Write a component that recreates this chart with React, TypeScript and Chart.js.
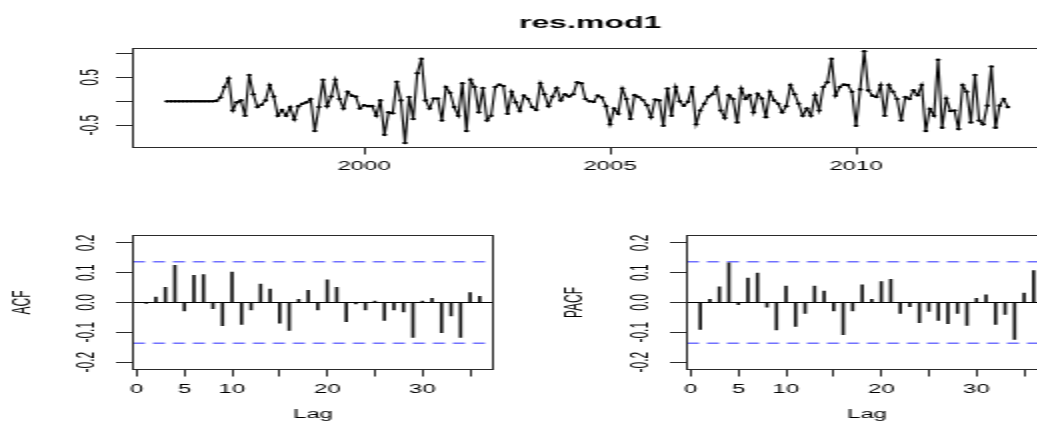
import React, { useEffect, useRef } from "react";
import { Chart, registerables } from "chart.js";

Chart.register(...registerables);

// ---------------- data ----------------
const seriesTitle = "res.mod1";
const startYear = 1996;
const frequency = 12;

const resValues = [
  0, 0, 0, 0, 0, 0, 0, 0, 0, 0, 0, 0,
  0.01, 0.08, 0.3, 0.48, -0.19, -0.02, 0.02, -0.3,
  0.55, 0.15, -0.12, -0.07, 0.02, 0.34, 0.1, -0.3, -0.18, -0.3,
  -0.12, -0.38, -0.1, -0.05, -0.02, 0.05, -0.62, -0.12, 0.45, -0.1,
  0.1, 0.45, 0.05, -0.15, 0.2, 0.12, 0.1, -0.15, -0.08, -0.1,
  -0.1, -0.3, 0.02, -0.7, -0.23, -0.25, 0.41, 0.02, -0.87, 0.09,
  -0.37, 0.59, 0.89, 0.02, -0.15, 0.06, 0.06, -0.4, 0.3, 0.18,
  -0.12, -0.3, 0.38, -0.62, 0.45, 0.3, -0.23, 0.28, -0.4, -0.3,
  0.3, 0.35, 0.32, -0.26, 0.2, -0.02, -0.2, 0.12, 0.05, -0.12,
  -0.18, 0.38, 0.15, -0.1, 0.1, 0.28, 0.02, 0.15, 0.1, 0.15,
  0.4, 0.38, 0.05, 0.0, -0.01, 0.12, 0.08, -0.1, -0.48, -0.15,
  -0.26, 0.27, 0.05, -0.37, 0.13, 0.09, 0.03, -0.08, -0.33, 0.04,
  0.02, -0.51, 0.27, -0.3, 0.3, 0.0, -0.09, -0.01, 0.3, -0.48,
  -0.19, -0.05, 0.1, 0.15, 0.3, -0.19, -0.35, 0.13, 0.05, -0.44,
  0.27, 0.05, 0.13, -0.23, 0.16, 0.06, -0.33, 0.2, 0.02, -0.05,
  -0.23, -0.1, 0.34, 0.15, -0.05, -0.3, -0.15, -0.3, 0.13, -0.19,
  0.3, 0.4, 0.89, 0.12, 0.3, 0.35, 0.34, 0.2, -0.51, 0.25,
  1.05, 0.23, 0.12, 0.09, 0.34, -0.3, 0.34, 0.2, 0.05, -0.4,
  0.09, 0.05, 0.23, 0.13, 0.34, -0.62, -0.16, -0.3, 0.87, -0.55,
  0.06, -0.2, -0.19, -0.58, 0.34, 0.2, -0.44, 0.55, -0.4, -0.48,
  -0.09, 0.73, -0.55, -0.09, 0.05, -0.12,
];

const lags = [
  1, 2, 3, 4, 5, 6, 7, 8, 9, 10, 11, 12, 13, 14, 15, 16, 17, 18,
  19, 20, 21, 22, 23, 24, 25, 26, 27, 28, 29, 30, 31, 32, 33, 34, 35, 36,
];

const acfValues = [
  -0.003, 0.018, 0.051, 0.125, -0.028, 0.091, 0.094, -0.021, -0.078, 0.102,
  -0.074, -0.025, 0.062, 0.045, -0.069, -0.094, 0.011, 0.041, -0.025, 0.076,
  0.051, -0.064, -0.005, -0.025, 0.005, -0.06, -0.025, -0.032, -0.117, 0.005,
  0.014, -0.101, -0.045, -0.117, 0.033, 0.021,
];

const pacfValues = [
  -0.09, 0.011, 0.053, 0.133, -0.007, 0.082, 0.099, -0.016, -0.092, 0.055,
  -0.08, -0.037, 0.055, 0.038, -0.028, -0.108, -0.028, 0.059, 0.011, 0.07,
  0.078, -0.037, -0.014, -0.068, -0.03, -0.06, -0.071, -0.037, -0.077, 0.014,
  0.026, -0.074, -0.04, -0.124, 0.032, 0.107,
];

const yearLimits = [1995.305, 2013.88];
const resLimits = [-0.965, 1.106];
const resLabelsShown = [-0.5, 0.5];
const lagLimits = [-0.4, 37.4];
const lagLabelsShown = [0, 5, 10, 20, 30];
const corrLimits = [-0.225, 0.225];
const ciBound = 1.96 / Math.sqrt(resValues.length);

// ---------------- style ----------------
const FONT = "'Liberation Sans', Arial, Helvetica, sans-serif";
const INK = "#000000";
const FRAME = "#2a2a2a";
const CI_COLOR = "#2a2aff";
const CW = 540; // internal canvas width (stretched 2x horizontally)
const CH = 421;

const framePlugin = {
  id: "frame",
  afterDraw(chart: any) {
    const { ctx, chartArea: a } = chart;
    ctx.save();
    ctx.strokeStyle = FRAME;
    ctx.lineWidth = 1;
    ctx.strokeRect(a.left, a.top, a.right - a.left, a.bottom - a.top);
    ctx.restore();
  },
};

const tickFont = { family: FONT, size: 12 };

function near(a: number, b: number) {
  return Math.abs(a - b) < 1e-6;
}

function corrConfig(values: number[], yTitle: string, padLeft: number, padRight: number, yTitlePad: number) {
  return {
    type: "bar",
    data: {
      datasets: [
        {
          type: "bar",
          data: lags.map((l, i) => ({ x: l, y: values[i] })),
          backgroundColor: "#111111",
          borderWidth: 0,
          barThickness: 1,
        },
        {
          type: "line",
          data: [
            { x: lagLimits[0], y: ciBound },
            { x: lagLimits[1], y: ciBound },
          ],
          borderColor: CI_COLOR,
          borderWidth: 1,
          borderDash: [6, 4],
          pointRadius: 0,
        },
        {
          type: "line",
          data: [
            { x: lagLimits[0], y: -ciBound },
            { x: lagLimits[1], y: -ciBound },
          ],
          borderColor: CI_COLOR,
          borderWidth: 1,
          borderDash: [6, 4],
          pointRadius: 0,
        },
      ],
    },
    options: {
      animation: false,
      responsive: false,
      devicePixelRatio: 1,
      events: [],
      layout: { padding: { top: 235.5, left: padLeft, right: padRight, bottom: 0 } },
      plugins: { legend: { display: false }, tooltip: { enabled: false }, title: { display: false } },
      scales: {
        x: {
          type: "linear",
          min: lagLimits[0],
          max: lagLimits[1],
          offset: false,
          afterFit: (s: any) => {
            s.height = CH - 369.5;
          },
          border: { display: false },
          grid: { display: true, offset: false, drawOnChartArea: false, drawTicks: true, tickLength: 7, color: FRAME },
          ticks: {
            stepSize: 5,
            includeBounds: false,
            autoSkip: false,
            maxRotation: 0,
            minRotation: 0,
            padding: 6.3,
            color: INK,
            font: tickFont,
            callback: (v: number) => (lagLabelsShown.some((s) => near(s, v)) ? String(v) : ""),
          },
          title: { display: true, text: "Lag", color: INK, font: tickFont, padding: { top: 0, bottom: -1.2 } },
        },
        y: {
          type: "linear",
          min: corrLimits[0],
          max: corrLimits[1],
          afterFit: (s: any) => {
            s.width = 66.5;
          },
          border: { display: false },
          grid: {
            display: true,
            drawOnChartArea: true,
            drawTicks: true,
            tickLength: 8.5,
            color: (c: any) => (c.tick && near(c.tick.value, 0) ? "#000000" : "rgba(0,0,0,0)"),
            tickColor: FRAME,
          },
          ticks: {
            stepSize: 0.1,
            includeBounds: false,
            autoSkip: false,
            minRotation: 90,
            maxRotation: 90,
            crossAlign: "center",
            padding: 3.6,
            color: INK,
            font: tickFont,
            callback: (v: number) => v.toFixed(1),
          },
          title: { display: true, text: yTitle, color: INK, font: tickFont, padding: { top: yTitlePad, bottom: 0 } },
        },
      },
    },
    plugins: [framePlugin],
  };
}

function seriesConfig() {
  return {
    type: "line",
    data: {
      datasets: [
        {
          data: resValues.map((v, i) => ({ x: startYear + i / frequency, y: v })),
          borderColor: "#000000",
          borderWidth: 1.1,
          pointRadius: 1.3,
          pointBackgroundColor: "#000000",
          pointBorderWidth: 0,
          tension: 0,
        },
      ],
    },
    options: {
      animation: false,
      responsive: false,
      devicePixelRatio: 1,
      events: [],
      layout: { padding: { top: 0, left: 16.5, right: 16.5, bottom: 233.5 } },
      plugins: {
        legend: { display: false },
        tooltip: { enabled: false },
        title: {
          display: true,
          text: seriesTitle,
          fullSize: false,
          color: "#000000",
          font: { family: FONT, size: 16, weight: "bold" },
          padding: { top: 14, bottom: 15.3 },
        },
      },
      scales: {
        x: {
          type: "linear",
          min: yearLimits[0],
          max: yearLimits[1],
          afterFit: (s: any) => {
            s.height = 40;
          },
          border: { display: false },
          grid: { drawOnChartArea: false, drawTicks: true, tickLength: 7, color: FRAME },
          ticks: {
            stepSize: 5,
            includeBounds: false,
            autoSkip: false,
            maxRotation: 0,
            minRotation: 0,
            padding: 5.3,
            color: INK,
            font: tickFont,
            callback: (v: number) => String(v),
          },
        },
        y: {
          type: "linear",
          min: resLimits[0],
          max: resLimits[1],
          afterFit: (s: any) => {
            s.width = 50;
          },
          border: { display: false },
          grid: { drawOnChartArea: false, drawTicks: true, tickLength: 8.5, color: FRAME },
          ticks: {
            stepSize: 0.5,
            includeBounds: false,
            autoSkip: false,
            minRotation: 90,
            maxRotation: 90,
            crossAlign: "center",
            padding: 1.6,
            color: INK,
            font: tickFont,
            callback: (v: number) => (resLabelsShown.some((s) => near(s, v)) ? v.toFixed(1) : ""),
          },
        },
      },
    },
    plugins: [framePlugin],
  };
}

const canvasStyle: React.CSSProperties = {
  position: "absolute",
  left: 0,
  top: 0,
  width: CW * 2 + "px",
  height: CH + "px",
};

export default function App() {
  const topRef = useRef<HTMLCanvasElement | null>(null);
  const acfRef = useRef<HTMLCanvasElement | null>(null);
  const pacfRef = useRef<HTMLCanvasElement | null>(null);

  useEffect(() => {
    const charts: Chart[] = [];
    if (topRef.current) charts.push(new Chart(topRef.current, seriesConfig() as any));
    if (acfRef.current) charts.push(new Chart(acfRef.current, corrConfig(acfValues, "ACF", 0, CW - 246.5, 4.3) as any));
    if (pacfRef.current)
      charts.push(new Chart(pacfRef.current, corrConfig(pacfValues, "PACF", 277, CW - 523.5, 3.8) as any));
    return () => {
      charts.forEach((c) => c.destroy());
    };
  }, []);

  return (
    <div
      style={{
        position: "fixed",
        left: 0,
        top: 0,
        width: "1037px",
        height: "421px",
        overflow: "hidden",
        background: "#ffffff",
      }}
    >
      <canvas ref={topRef} width={CW} height={CH} style={canvasStyle} />
      <canvas ref={acfRef} width={CW} height={CH} style={canvasStyle} />
      <canvas ref={pacfRef} width={CW} height={CH} style={canvasStyle} />
    </div>
  );
}
